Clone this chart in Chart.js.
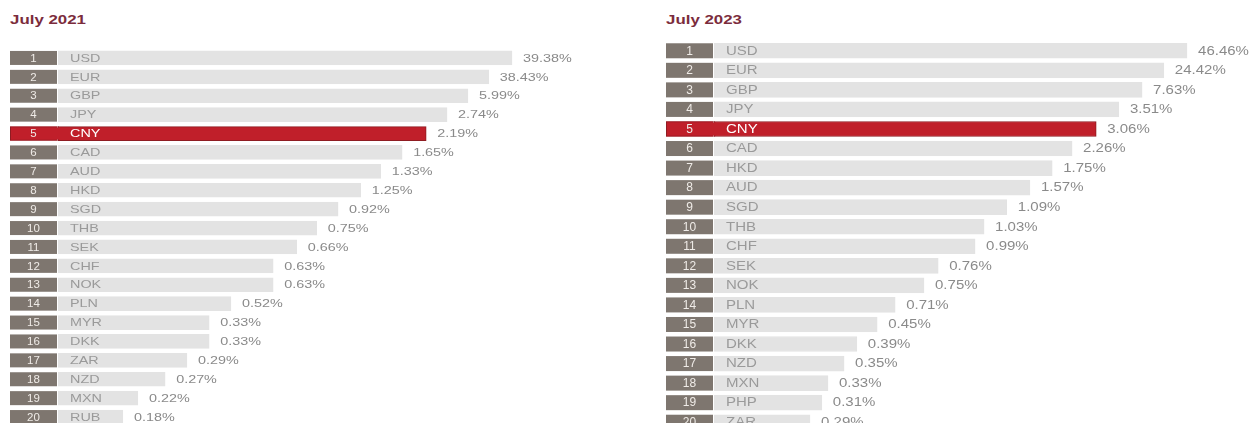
<!DOCTYPE html>
<html>
<head>
<meta charset="utf-8">
<script src="https://cdn.jsdelivr.net/npm/chart.js@4/dist/chart.umd.min.js"></script>
<style>
  html, body { margin: 0; padding: 0; background: #fff; overflow: hidden; }
  body { width: 1250px; height: 423px; position: relative; font-family: "Liberation Sans", Arial, sans-serif; }
  .panel { position: absolute; top: 0; width: 625px; height: 440px; }
  .title { position: absolute; top: 12px; font-weight: bold; font-size: 13.5px; line-height: 16px; color: #7b2c3c;
           transform: scaleX(1.25); transform-origin: left center; }
</style>
</head>
<body>
<div class="title" style="left:10px">July 2021</div>
<div class="title" style="left:666px">July 2023</div>
<div class="panel" style="left:0"><canvas id="chart2021"></canvas></div>
<div class="panel" style="left:625px"><canvas id="chart2023"></canvas></div>

<script>
// ranking data
const ranks = [1, 2, 3, 4, 5, 6, 7, 8, 9, 10, 11, 12, 13, 14, 15, 16, 17, 18, 19, 20];

const currencies2021 = ['USD', 'EUR', 'GBP', 'JPY', 'CNY', 'CAD', 'AUD', 'HKD', 'SGD', 'THB',
                        'SEK', 'CHF', 'NOK', 'PLN', 'MYR', 'DKK', 'ZAR', 'NZD', 'MXN', 'RUB'];
const shares2021 = ['39.38%', '38.43%', '5.99%', '2.74%', '2.19%', '1.65%', '1.33%', '1.25%', '0.92%', '0.75%',
                    '0.66%', '0.63%', '0.63%', '0.52%', '0.33%', '0.33%', '0.29%', '0.27%', '0.22%', '0.18%'];
// bar lengths are not proportional to the shares in the original, so keep the drawn length (USD = 100)
const barScore2021 = [100, 94.9, 90.3, 85.7, 81.1, 75.8, 71.1, 66.7, 61.7, 57.0,
                      52.6, 47.4, 47.4, 38.1, 33.3, 33.3, 28.4, 23.6, 17.6, 14.3];

const currencies2023 = ['USD', 'EUR', 'GBP', 'JPY', 'CNY', 'CAD', 'HKD', 'AUD', 'SGD', 'THB',
                        'CHF', 'SEK', 'NOK', 'PLN', 'MYR', 'DKK', 'NZD', 'MXN', 'PHP', 'ZAR'];
const shares2023 = ['46.46%', '24.42%', '7.63%', '3.51%', '3.06%', '2.26%', '1.75%', '1.57%', '1.09%', '1.03%',
                    '0.99%', '0.76%', '0.75%', '0.71%', '0.45%', '0.39%', '0.35%', '0.33%', '0.31%', '0.29%'];
const barScore2023 = [100, 95.1, 90.5, 85.6, 80.8, 75.7, 71.5, 66.8, 61.9, 57.1,
                      55.2, 47.4, 44.4, 38.3, 34.5, 30.2, 27.5, 24.1, 22.8, 20.3];

const HIGHLIGHT = 'CNY';
const RED = '#c01f2a';
const RED_EDGE = '#8f1c22';
const BAR = '#e3e3e3';
const BOX = '#7e766f';
const FONT = '"Liberation Sans", Arial, sans-serif';
const STRETCH = 1.25; // the source image is squeezed wider than tall

function stretchedText(ctx, text, x, y) {
    ctx.save();
    ctx.translate(x, y);
    ctx.scale(STRETCH, 1);
    ctx.fillText(text, 0, 0);
    ctx.restore();
}

// draws rank boxes, currency names and share labels around each bar
const rowLabels = {
    id: 'rowLabels',
    afterDatasetsDraw(chart, args, opts) {
        const ctx = chart.ctx;
        const meta = chart.getDatasetMeta(0);
        const left = chart.chartArea.left;
        meta.data.forEach((bar, i) => {
            const h = bar.height;
            const top = bar.y - h / 2;
            const hot = opts.currencies[i] === HIGHLIGHT;
            const boxX = left - 1 - opts.boxWidth;

            ctx.save();
            ctx.fillStyle = hot ? RED : BOX;
            ctx.fillRect(boxX, top, opts.boxWidth, h);
            if (hot) {
                ctx.strokeStyle = RED_EDGE;
                ctx.lineWidth = 1;
                ctx.strokeRect(boxX + 0.5, top + 0.5, opts.boxWidth + 1, h - 1);
                ctx.fillStyle = RED;
                ctx.fillRect(boxX + 1, top + 1, opts.boxWidth + 2, h - 2);
            }

            ctx.textBaseline = 'middle';
            ctx.font = opts.fontSize + 'px ' + FONT;

            ctx.fillStyle = '#efebe7';
            ctx.textAlign = 'center';
            ctx.fillText(String(ranks[i]), boxX + opts.boxWidth / 2, bar.y + 0.5);

            ctx.textAlign = 'left';
            ctx.fillStyle = hot ? '#ffffff' : '#9a9a9a';
            stretchedText(ctx, opts.currencies[i], bar.base + 12, bar.y + 0.5);

            ctx.fillStyle = '#8a8a8a';
            stretchedText(ctx, opts.shares[i], bar.x + 11, bar.y + 0.5);
            ctx.restore();
        });
    }
};

function makeChart(id, currencies, shares, scores, cfg) {
    const ctx = document.getElementById(id).getContext('2d');
    return new Chart(ctx, {
        type: 'bar',
        data: {
            labels: currencies,
            datasets: [{
                data: scores,
                backgroundColor: currencies.map(c => c === HIGHLIGHT ? RED : BAR),
                borderColor: currencies.map(c => c === HIGHLIGHT ? RED_EDGE : BAR),
                borderWidth: 1,
                borderSkipped: false,
                barThickness: cfg.thickness
            }]
        },
        options: {
            indexAxis: 'y',
            responsive: true,
            maintainAspectRatio: false,
            animation: false,
            layout: { padding: cfg.padding },
            plugins: {
                legend: { display: false },
                tooltip: { enabled: false },
                rowLabels: {
                    currencies: currencies,
                    shares: shares,
                    boxWidth: 47,
                    fontSize: cfg.fontSize
                }
            },
            scales: {
                x: { display: false, min: 0, max: cfg.max },
                y: {
                    grid: { display: false },
                    border: { display: false },
                    ticks: { display: false },
                    afterFit: scale => { scale.width = 48; }
                }
            }
        },
        plugins: [rowLabels]
    });
}

makeChart('chart2021', currencies2021, shares2021, barScore2021, {
    thickness: 14,
    max: 120,
    fontSize: 11.5,
    padding: { left: 10, right: 22.2, top: 48.5, bottom: 13.5 }
});

makeChart('chart2023', currencies2023, shares2023, barScore2023, {
    thickness: 15,
    max: 112,
    fontSize: 12,
    padding: { left: 41, right: 6.2, top: 41, bottom: 8 }
});
</script>
</body>
</html>
